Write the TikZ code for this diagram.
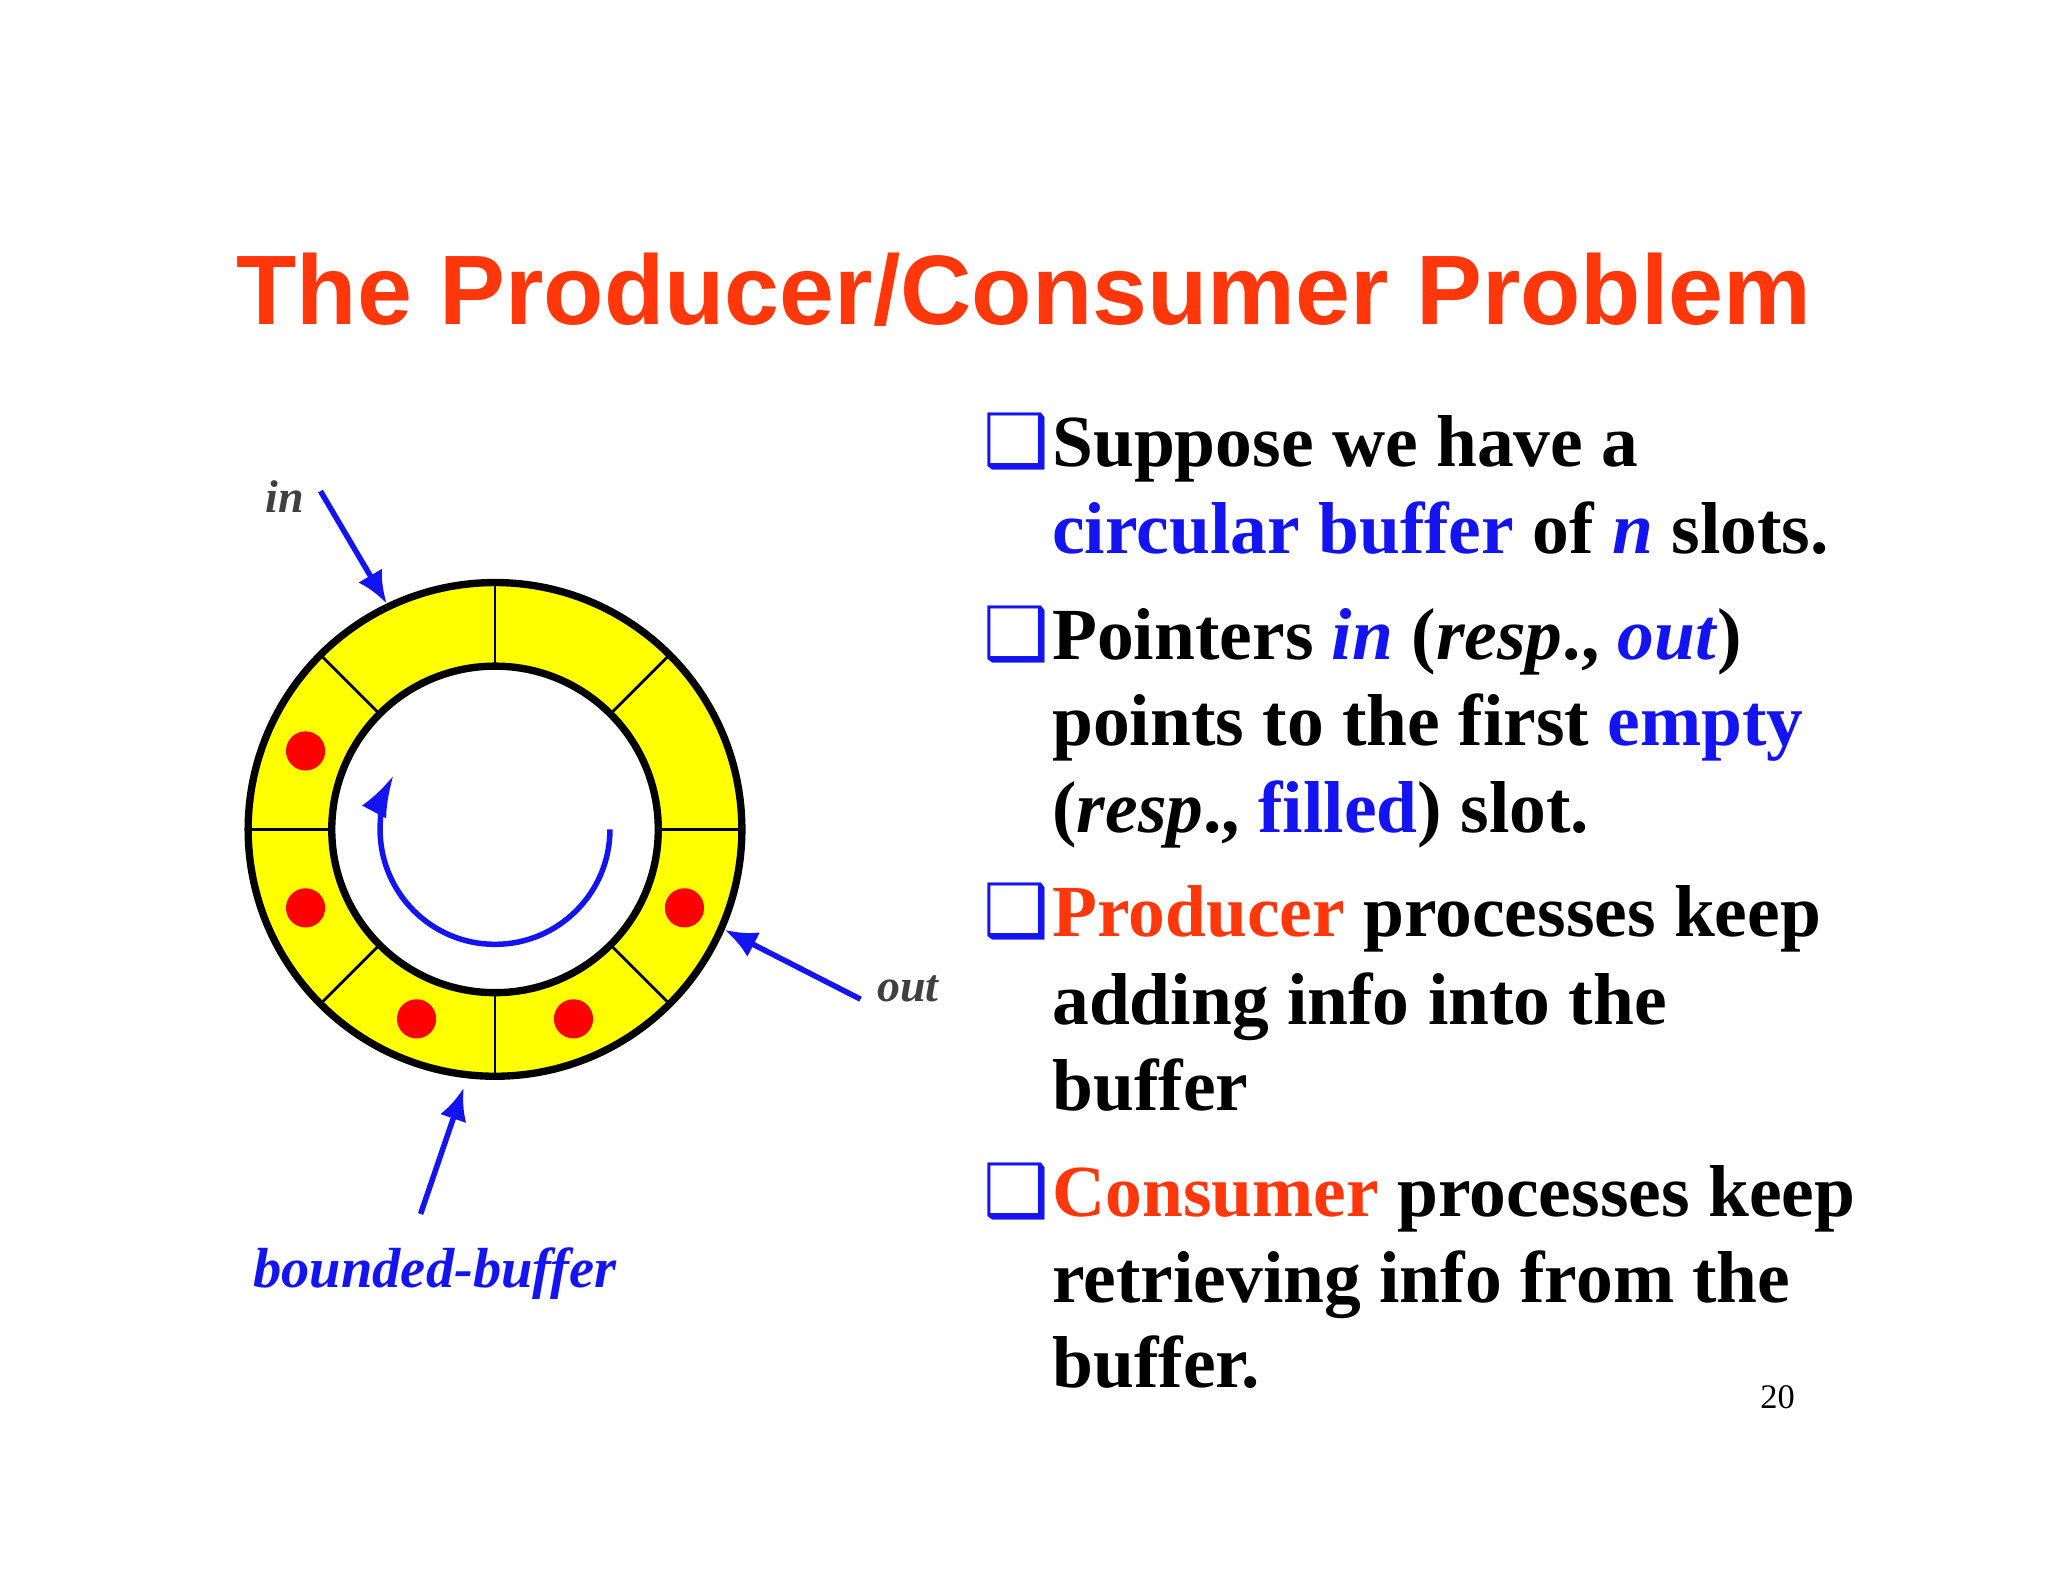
\documentclass[tikz,border=0pt]{standalone}
\usepackage{fontspec}
\setmainfont{Liberation Serif}
\newfontfamily\titlefont{Liberation Sans}
\newfontfamily\dejav{DejaVu Sans}
\definecolor{myblue}{RGB}{20,20,240}
\definecolor{myorange}{RGB}{255,55,10}
\definecolor{myyellow}{RGB}{255,255,0}
\usetikzlibrary{arrows.meta,calc}
\tikzset{
  txt/.style={anchor=base west,inner sep=0pt,font=\fontsize{16}{19}\selectfont\bfseries},
  bul/.style={anchor=base west,inner sep=0pt,text=myblue,font=\dejav\fontsize{16}{19}\selectfont},
  ptr/.style={myblue,line width=1.2pt,-{Latex[length=7pt,width=6pt]}},
  lab/.style={inner sep=0pt,font=\fontsize{10}{12}\selectfont\bfseries\itshape,text=black!75}
}
\begin{document}
\begin{tikzpicture}[x=0.01cm,y=-0.01cm]
\useasboundingbox (0,0) rectangle (1568,1211);
\fill[white] (0,0) rectangle (1568,1211);
\node[inner sep=0pt,text=myorange,font=\titlefont\fontsize{21.5}{24}\selectfont\bfseries] (title) at (784,222) {The Producer/Consumer Problem};
% ring
\coordinate (c) at (379,635);
\fill[myyellow,even odd rule] (c) circle[radius=189] (c) circle[radius=125];
\draw[line width=1.6pt] (c) circle[radius=189];
\draw[line width=1.6pt] (c) circle[radius=125];
\foreach \a in {0,45,...,315}
  \draw[line width=0.6pt] ($(c)+(\a:125)$) -- ($(c)+(\a:189)$);
\foreach \a in {157.5,202.5,247.5,292.5,337.5}
  \fill[red] ($(c)+(-\a:157)$) circle[radius=15];
\draw[myblue,line width=1.2pt,-{Latex[length=9pt,width=6pt]}] ($(c)+(0:88)$) arc[start angle=0,end angle=208,radius=88];
% labels
\node[lab] (in) at (218,380) {in};
\coordinate (inend) at (296,462);
\draw[ptr] (in.east)++(12,-4) -- (inend);
\node[lab] (out) at (695,757) {out};
\coordinate (outend) at (555,712);
\draw[ptr] (out.west)++(-12,8) -- (outend);
\node[inner sep=0pt,text=myblue,font=\fontsize{12.3}{14}\selectfont\bfseries\itshape] (bb) at (333,975) {bounded-buffer};
\coordinate (bbend) at (355,833);
\draw[ptr] (bb.north)++(-11,-25) -- (bbend);
% bullets
\foreach \y/\n in {357/b1,505/b2,717/b3,931/b4}
  \node[bul] (\n) at (752,\y) {❑};
\node[txt] (l1) at (805,357) {Suppose we have a};
\node[txt] (l2) at (805,424) {\textcolor{myblue}{circular buffer} of \textcolor{myblue}{\textit{n}} slots.};
\node[txt] (l3) at (805,505) {Pointers \textcolor{myblue}{\textit{in}} (\textit{resp}., \textcolor{myblue}{\textit{out}})};
\node[txt] (l4) at (805,571) {points to the first \textcolor{myblue}{empty}};
\node[txt] (l5) at (805,637) {(\textit{resp}., \textcolor{myblue}{filled}) slot.};
\node[txt] (l6) at (805,717) {\textcolor{myorange}{Producer} processes keep};
\node[txt] (l7) at (805,784) {adding info into the};
\node[txt] (l8) at (805,850) {buffer};
\node[txt] (l9) at (805,931) {\textcolor{myorange}{Consumer} processes keep};
\node[txt] (l10) at (805,997) {retrieving info from the};
\node[txt] (l11) at (805,1062) {buffer.};
\node[inner sep=0pt,font=\fontsize{7.5}{9}\selectfont] (pg) at (1361,1070) {20};
\end{tikzpicture}
\end{document}
